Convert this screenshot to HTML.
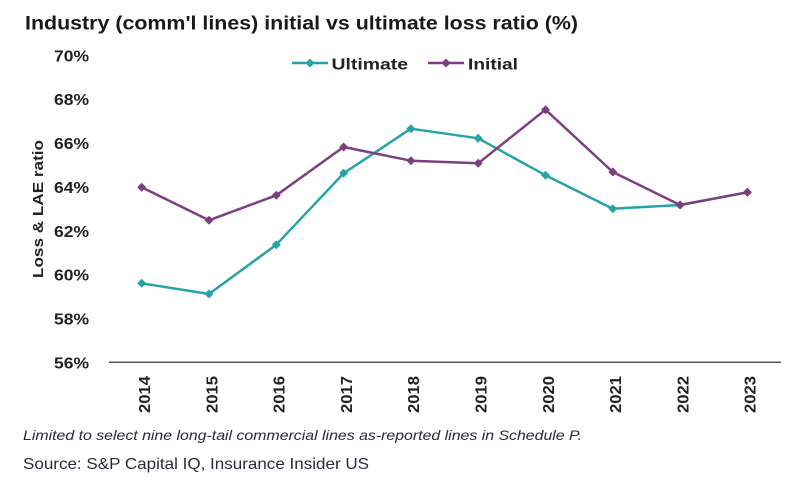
<!DOCTYPE html>
<html><head><meta charset="utf-8"><style>
html,body{margin:0;padding:0;background:#fff;}
svg{display:block;}
text{font-family:"Liberation Sans",Arial,sans-serif;}
</style></head><body>
<svg width="800" height="482" viewBox="0 0 800 482" xmlns="http://www.w3.org/2000/svg">
<rect width="800" height="482" fill="#fff"/>
<text x="25" y="29.5" font-size="19" font-weight="bold" fill="#1a1a1a" textLength="553" lengthAdjust="spacingAndGlyphs">Industry (comm'l lines) initial vs ultimate loss ratio (%)</text>
<!-- y tick labels -->
<g font-size="16" font-weight="bold" fill="#222" text-anchor="end">
<text x="89" y="61.3" textLength="35" lengthAdjust="spacingAndGlyphs">70%</text>
<text x="89" y="105.2" textLength="35" lengthAdjust="spacingAndGlyphs">68%</text>
<text x="89" y="149.1" textLength="35" lengthAdjust="spacingAndGlyphs">66%</text>
<text x="89" y="193.0" textLength="35" lengthAdjust="spacingAndGlyphs">64%</text>
<text x="89" y="236.8" textLength="35" lengthAdjust="spacingAndGlyphs">62%</text>
<text x="89" y="280.7" textLength="35" lengthAdjust="spacingAndGlyphs">60%</text>
<text x="89" y="324.6" textLength="35" lengthAdjust="spacingAndGlyphs">58%</text>
<text x="89" y="368.5" textLength="35" lengthAdjust="spacingAndGlyphs">56%</text>
</g>
<text transform="translate(43,209) rotate(-90)" text-anchor="middle" font-size="15" font-weight="bold" fill="#222" textLength="138" lengthAdjust="spacingAndGlyphs">Loss &amp; LAE ratio</text>
<!-- axis -->
<line x1="109" y1="362.3" x2="781" y2="362.3" stroke="#555" stroke-width="1.5"/>
<!-- x labels -->
<g font-size="16" font-weight="bold" fill="#222" text-anchor="end">
<text transform="translate(150,376) rotate(-90)" textLength="37" lengthAdjust="spacingAndGlyphs">2014</text>
<text transform="translate(217.3,376) rotate(-90)" textLength="37" lengthAdjust="spacingAndGlyphs">2015</text>
<text transform="translate(284.6,376) rotate(-90)" textLength="37" lengthAdjust="spacingAndGlyphs">2016</text>
<text transform="translate(351.9,376) rotate(-90)" textLength="37" lengthAdjust="spacingAndGlyphs">2017</text>
<text transform="translate(419.2,376) rotate(-90)" textLength="37" lengthAdjust="spacingAndGlyphs">2018</text>
<text transform="translate(486.5,376) rotate(-90)" textLength="37" lengthAdjust="spacingAndGlyphs">2019</text>
<text transform="translate(553.8,376) rotate(-90)" textLength="37" lengthAdjust="spacingAndGlyphs">2020</text>
<text transform="translate(621.1,376) rotate(-90)" textLength="37" lengthAdjust="spacingAndGlyphs">2021</text>
<text transform="translate(688.4,376) rotate(-90)" textLength="37" lengthAdjust="spacingAndGlyphs">2022</text>
<text transform="translate(755.7,376) rotate(-90)" textLength="37" lengthAdjust="spacingAndGlyphs">2023</text>
</g>
<defs>
<path id="dm" d="M0,-4.5 L4.5,0 L0,4.5 L-4.5,0 Z"/>
</defs>
<!-- Ultimate -->
<polyline fill="none" stroke="#26a3a4" stroke-width="2.5" stroke-linejoin="round"
points="141.7,283.3 209,294 276.3,244.7 343.6,173.3 410.9,128.7 478.2,138.3 545.5,175.3 612.8,208.7 680.1,205 747.4,192.3"/>
<g fill="#26a3a4">
<use href="#dm" x="141.7" y="283.3"/><use href="#dm" x="209" y="294"/><use href="#dm" x="276.3" y="244.7"/><use href="#dm" x="343.6" y="173.3"/><use href="#dm" x="410.9" y="128.7"/><use href="#dm" x="478.2" y="138.3"/><use href="#dm" x="545.5" y="175.3"/><use href="#dm" x="612.8" y="208.7"/><use href="#dm" x="680.1" y="205"/><use href="#dm" x="747.4" y="192.3"/>
</g>
<!-- Initial -->
<polyline fill="none" stroke="#7d3f81" stroke-width="2.5" stroke-linejoin="round"
points="141.7,187.3 209,220.3 276.3,195.3 343.6,147 410.9,160.7 478.2,163.3 545.5,109.7 612.8,172 680.1,205 747.4,192.3"/>
<g fill="#7d3f81">
<use href="#dm" x="141.7" y="187.3"/><use href="#dm" x="209" y="220.3"/><use href="#dm" x="276.3" y="195.3"/><use href="#dm" x="343.6" y="147"/><use href="#dm" x="410.9" y="160.7"/><use href="#dm" x="478.2" y="163.3"/><use href="#dm" x="545.5" y="109.7"/><use href="#dm" x="612.8" y="172"/><use href="#dm" x="680.1" y="205"/><use href="#dm" x="747.4" y="192.3"/>
</g>
<!-- legend -->
<line x1="292" y1="63" x2="328" y2="63" stroke="#26a3a4" stroke-width="2.5"/>
<use href="#dm" x="310" y="63" fill="#26a3a4"/>
<text x="331.5" y="69.3" font-size="16" font-weight="bold" fill="#222" textLength="76.5" lengthAdjust="spacingAndGlyphs">Ultimate</text>
<line x1="428" y1="63" x2="464" y2="63" stroke="#7d3f81" stroke-width="2.5"/>
<use href="#dm" x="446" y="63" fill="#7d3f81"/>
<text x="468" y="69.3" font-size="16" font-weight="bold" fill="#222" textLength="50" lengthAdjust="spacingAndGlyphs">Initial</text>
<!-- footnotes -->
<text x="23" y="440" font-size="14" font-style="italic" fill="#2a2a3a" textLength="559" lengthAdjust="spacingAndGlyphs">Limited to select nine long-tail commercial lines as-reported lines in Schedule P.</text>
<text x="23" y="469" font-size="16" fill="#2a2a3a" textLength="346" lengthAdjust="spacingAndGlyphs">Source: S&amp;P Capital IQ, Insurance Insider US</text>
</svg>
</body></html>
